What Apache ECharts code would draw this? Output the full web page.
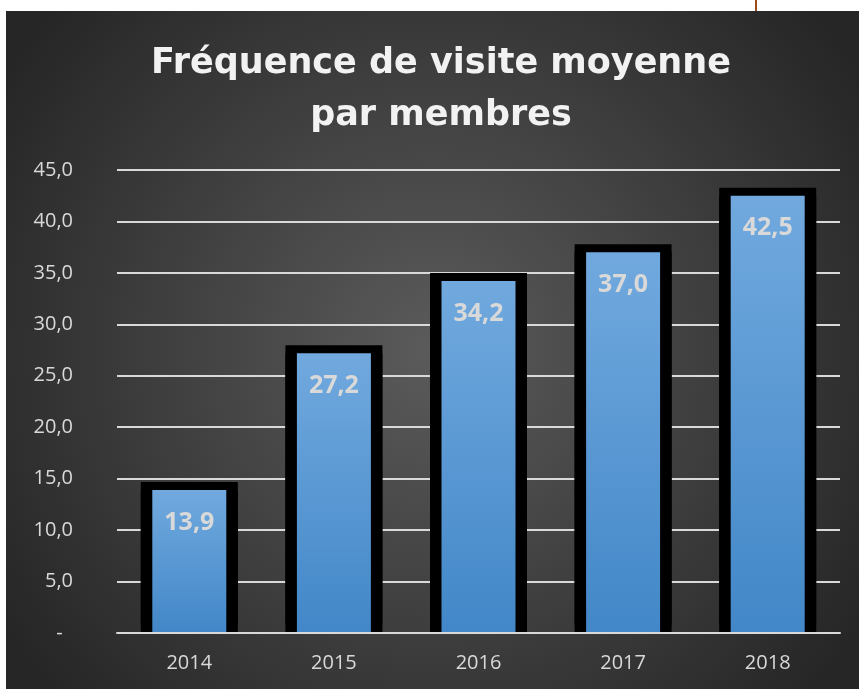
<!DOCTYPE html>
<html>
<head>
<meta charset="utf-8">
<script src="https://cdn.jsdelivr.net/npm/echarts@6/dist/echarts.min.js"></script>
<style>
  html, body { margin: 0; padding: 0; background: #ffffff; }
  #main { position: absolute; left: 6px; top: 11px; width: 853px; height: 678px; }
  #mark { position: absolute; left: 755px; top: 0; width: 2px; height: 11px; background: #9c4a1e; }
</style>
</head>
<body>
<div id="mark"></div>
<div id="main"></div>
<script>
// données
var annees = ['2014', '2015', '2016', '2017', '2018'];
var frequence = [13.9, 27.2, 34.2, 37.0, 42.5];
var yTicks = ['-  ', '5,0', '10,0', '15,0', '20,0', '25,0', '30,0', '35,0', '40,0', '45,0'];

var myChart = echarts.init(document.getElementById('main'));

function virgule(v) {
    return v.toFixed(1).replace('.', ',');
}

option = {
    backgroundColor: {
        type: 'radial', x: 0.5, y: 0.5, r: 0.75,
        colorStops: [
            { offset: 0, color: '#5b5b5b' },
            { offset: 1, color: '#262626' }
        ]
    },
    title: {
        text: 'Fréquence de visite moyenne\npar membres',
        left: 430,
        top: 22,
        textAlign: 'center',
        textStyle: {
            color: '#f2f2f2',
            fontSize: 35,
            lineHeight: 52,
            fontWeight: 'bold',
            fontFamily: 'DejaVu Sans'
        }
    },
    grid: { left: 111, right: 19, top: 159, bottom: 56 },
    xAxis: [
        {
            type: 'category',
            data: annees,
            z: 5,
            axisTick: { show: false },
            axisLine: { lineStyle: { color: '#d9d9d9', width: 2 } },
            axisLabel: { color: '#d9d9d9', fontSize: 20, fontFamily: 'Open Sans', margin: 20 }
        },
        {
            // axe caché pour centrer le cadre noir
            type: 'category',
            data: annees,
            show: false
        }
    ],
    yAxis: {
        type: 'value',
        min: 0,
        max: 45,
        interval: 5,
        axisLine: { show: false },
        axisTick: { show: false },
        splitLine: { lineStyle: { color: '#d9d9d9', width: 2 } },
        axisLabel: {
            color: '#d9d9d9', fontSize: 20, fontFamily: 'Open Sans', margin: 44,
            formatter: function (v) { return yTicks[Math.round(v / 5)]; }
        }
    },
    series: [
        {
            // cadre noir
            type: 'bar',
            xAxisIndex: 1,
            data: frequence,
            barWidth: 97,
            silent: true,
            itemStyle: {
                color: '#000000',
                shadowColor: '#000000',
                shadowBlur: 0.01,
                shadowOffsetY: -8
            }
        },
        {
            type: 'bar',
            data: frequence,
            barWidth: 74,
            z: 3,
            itemStyle: {
                color: {
                    type: 'linear', x: 0, y: 0, x2: 0, y2: 1,
                    colorStops: [
                        { offset: 0, color: '#71a9de' },
                        { offset: 1, color: '#4287c8' }
                    ]
                }
            },
            label: {
                show: true,
                position: 'insideTop',
                distance: 20,
                color: '#d9d9d9',
                fontSize: 25,
                fontWeight: 'bold',
                fontFamily: 'Open Sans',
                formatter: function (p) { return virgule(p.value); }
            }
        }
    ]
};

myChart.setOption(option);
</script>
</body>
</html>
